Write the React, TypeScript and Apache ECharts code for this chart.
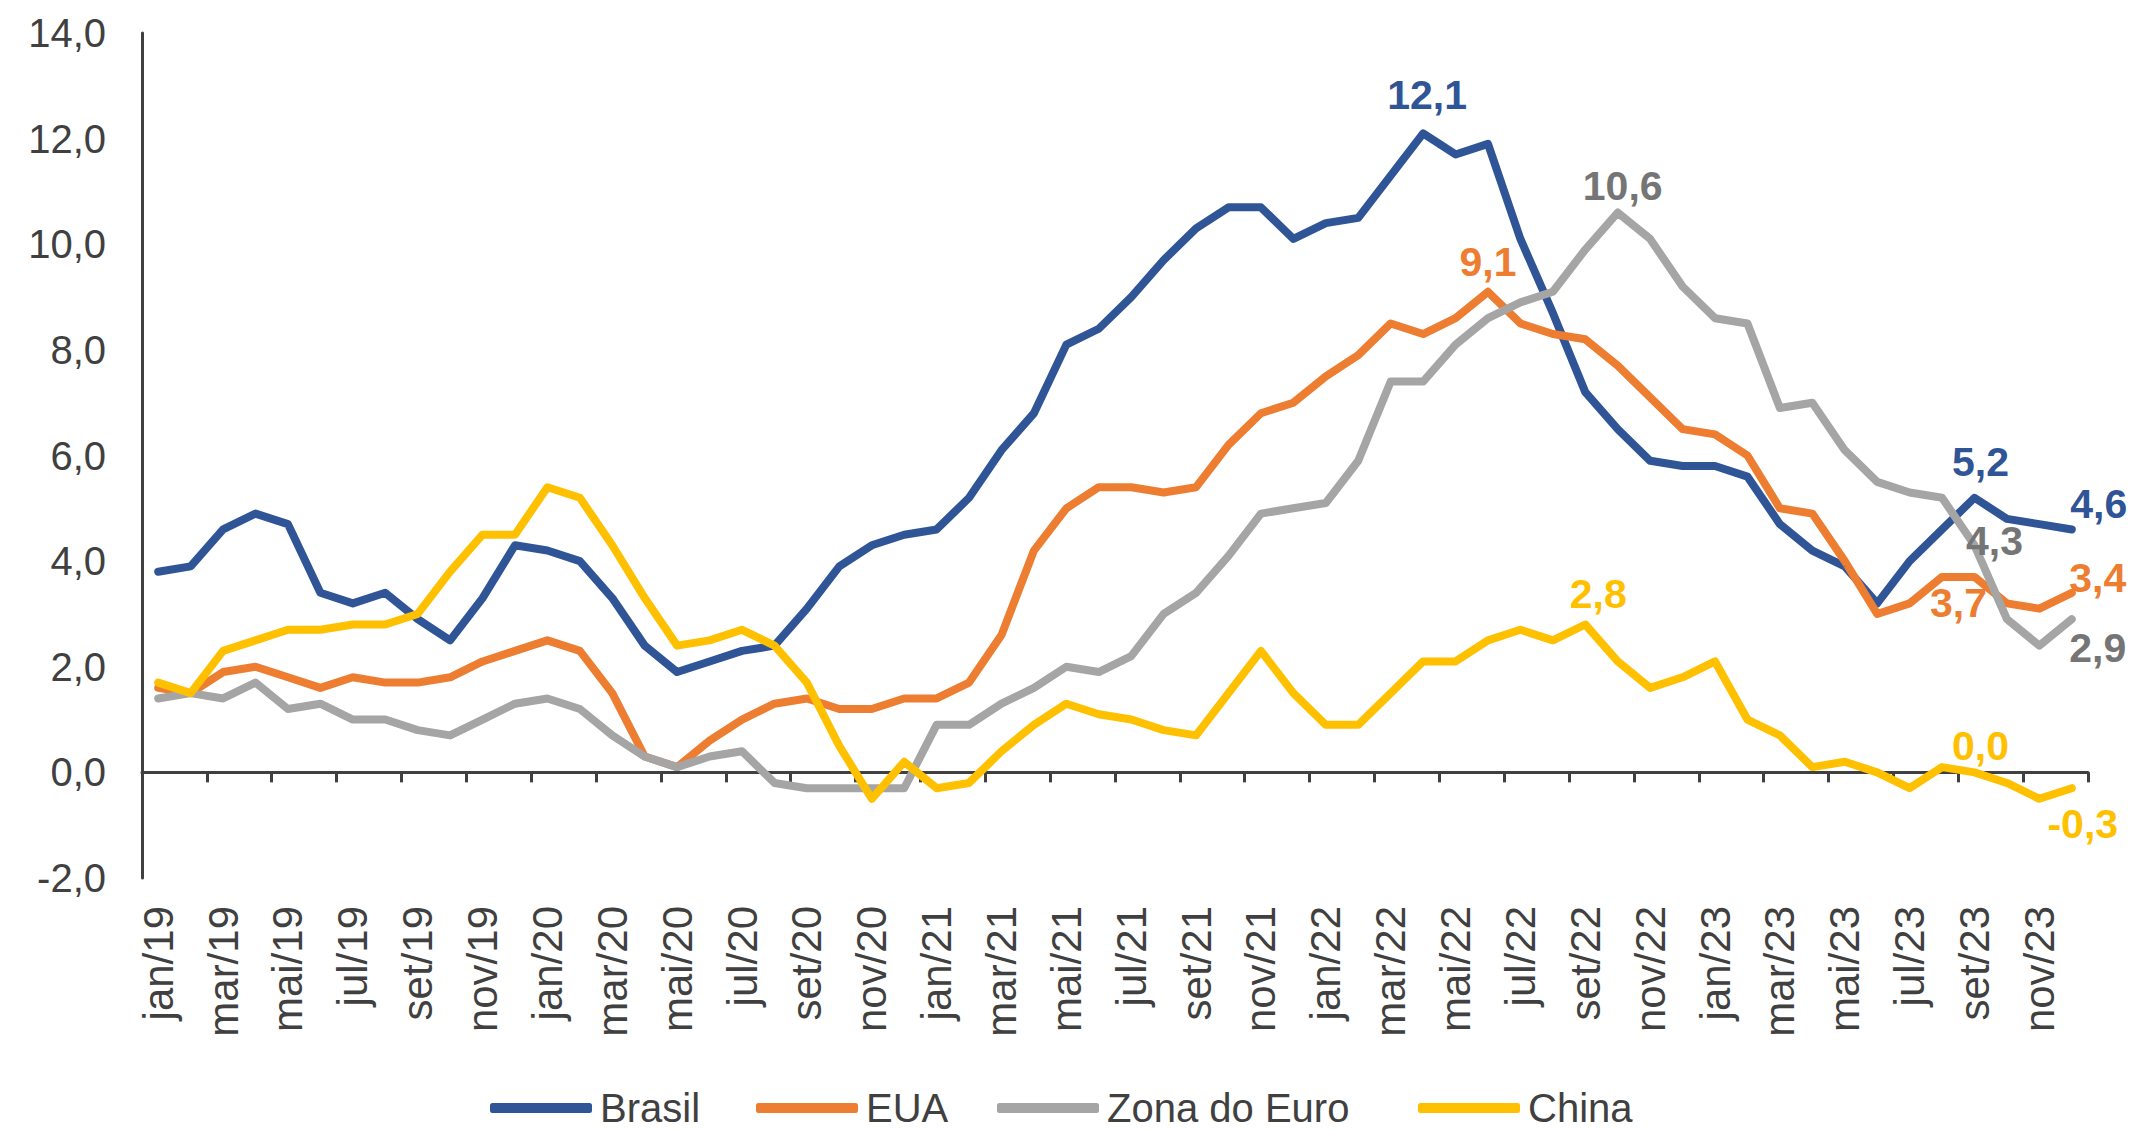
import React, { useEffect, useRef } from "react";
import * as echarts from "echarts";

const months = [
  "jan/19", "fev/19", "mar/19", "abr/19", "mai/19", "jun/19", "jul/19", "ago/19", "set/19", "out/19", "nov/19", "dez/19",
  "jan/20", "fev/20", "mar/20", "abr/20", "mai/20", "jun/20", "jul/20", "ago/20", "set/20", "out/20", "nov/20", "dez/20",
  "jan/21", "fev/21", "mar/21", "abr/21", "mai/21", "jun/21", "jul/21", "ago/21", "set/21", "out/21", "nov/21", "dez/21",
  "jan/22", "fev/22", "mar/22", "abr/22", "mai/22", "jun/22", "jul/22", "ago/22", "set/22", "out/22", "nov/22", "dez/22",
  "jan/23", "fev/23", "mar/23", "abr/23", "mai/23", "jun/23", "jul/23", "ago/23", "set/23", "out/23", "nov/23", "dez/23",
];

const brasil = [
  3.8, 3.9, 4.6, 4.9, 4.7, 3.4, 3.2, 3.4, 2.9, 2.5, 3.3, 4.3,
  4.2, 4.0, 3.3, 2.4, 1.9, 2.1, 2.3, 2.4, 3.1, 3.9, 4.3, 4.5,
  4.6, 5.2, 6.1, 6.8, 8.1, 8.4, 9.0, 9.7, 10.3, 10.7, 10.7, 10.1,
  10.4, 10.5, 11.3, 12.1, 11.7, 11.9, 10.1, 8.7, 7.2, 6.5, 5.9, 5.8,
  5.8, 5.6, 4.7, 4.2, 3.9, 3.2, 4.0, 4.6, 5.2, 4.8, 4.7, 4.6,
];

const eua = [
  1.6, 1.5, 1.9, 2.0, 1.8, 1.6, 1.8, 1.7, 1.7, 1.8, 2.1, 2.3,
  2.5, 2.3, 1.5, 0.3, 0.1, 0.6, 1.0, 1.3, 1.4, 1.2, 1.2, 1.4,
  1.4, 1.7, 2.6, 4.2, 5.0, 5.4, 5.4, 5.3, 5.4, 6.2, 6.8, 7.0,
  7.5, 7.9, 8.5, 8.3, 8.6, 9.1, 8.5, 8.3, 8.2, 7.7, 7.1, 6.5,
  6.4, 6.0, 5.0, 4.9, 4.0, 3.0, 3.2, 3.7, 3.7, 3.2, 3.1, 3.4,
];

const zonaEuro = [
  1.4, 1.5, 1.4, 1.7, 1.2, 1.3, 1.0, 1.0, 0.8, 0.7, 1.0, 1.3,
  1.4, 1.2, 0.7, 0.3, 0.1, 0.3, 0.4, -0.2, -0.3, -0.3, -0.3, -0.3,
  0.9, 0.9, 1.3, 1.6, 2.0, 1.9, 2.2, 3.0, 3.4, 4.1, 4.9, 5.0,
  5.1, 5.9, 7.4, 7.4, 8.1, 8.6, 8.9, 9.1, 9.9, 10.6, 10.1, 9.2,
  8.6, 8.5, 6.9, 7.0, 6.1, 5.5, 5.3, 5.2, 4.3, 2.9, 2.4, 2.9,
];

const china = [
  1.7, 1.5, 2.3, 2.5, 2.7, 2.7, 2.8, 2.8, 3.0, 3.8, 4.5, 4.5,
  5.4, 5.2, 4.3, 3.3, 2.4, 2.5, 2.7, 2.4, 1.7, 0.5, -0.5, 0.2,
  -0.3, -0.2, 0.4, 0.9, 1.3, 1.1, 1.0, 0.8, 0.7, 1.5, 2.3, 1.5,
  0.9, 0.9, 1.5, 2.1, 2.1, 2.5, 2.7, 2.5, 2.8, 2.1, 1.6, 1.8,
  2.1, 1.0, 0.7, 0.1, 0.2, 0.0, -0.3, 0.1, 0.0, -0.2, -0.5, -0.3,
];

const yTicks = { min: -2, max: 14, interval: 2 };

const seriesNames = ["Brasil", "EUA", "Zona do Euro", "China"];

// styling: annotated points (index in series, label offset from the point)
const annotations: Record<string, { index: number; offset: [number, number] }[]> = {
  Brasil: [
    { index: 39, offset: [4, -38] },
    { index: 56, offset: [6, -36] },
    { index: 59, offset: [27, -25] },
  ],
  EUA: [
    { index: 41, offset: [0, -30] },
    { index: 56, offset: [-16, 26] },
    { index: 59, offset: [26, -15] },
  ],
  "Zona do Euro": [
    { index: 45, offset: [5, -27] },
    { index: 56, offset: [20, -4] },
    { index: 59, offset: [26, 29] },
  ],
  China: [
    { index: 44, offset: [13, -31] },
    { index: 56, offset: [6, -26] },
    { index: 59, offset: [11, 36] },
  ],
};

// styling: left position of each legend item
const legendLeft: Record<string, number> = {
  Brasil: 490,
  EUA: 756,
  "Zona do Euro": 997,
  China: 1418,
};

const lineColors: Record<string, string> = {
  Brasil: "#2F5597",
  EUA: "#ED7D31",
  "Zona do Euro": "#A5A5A5",
  China: "#FFC000",
};
const labelColors: Record<string, string> = {
  Brasil: "#2F5597",
  EUA: "#ED7D31",
  "Zona do Euro": "#757575",
  China: "#FFC000",
};

const FONT = "'Liberation Sans', Arial, sans-serif";
const TEXT = "#404040";
const fmt = (v: number) => v.toFixed(1).replace(".", ",").replace("-0,0", "0,0");

export default function App() {
  const ref = useRef<HTMLDivElement>(null);

  useEffect(() => {
    if (!ref.current) return;
    const chart = echarts.init(ref.current, undefined, { renderer: "svg" });
    const valuesByName: Record<string, number[]> = {
      Brasil: brasil,
      EUA: eua,
      "Zona do Euro": zonaEuro,
      China: china,
    };

    const series = seriesNames.map((name) => {
      const vals = valuesByName[name];
      const ann = annotations[name] || [];
      const data = vals.map((v, i) => {
        const a = ann.find((x) => x.index === i);
        if (!a) return v;
        return {
          value: v,
          label: {
            show: true,
            position: "inside",
            offset: a.offset,
            formatter: (p: any) => fmt(p.value),
            fontSize: 41,
            fontWeight: "bold",
            fontFamily: FONT,
            color: labelColors[name],
          },
        };
      });
      return {
        name,
        type: "line",
        xAxisIndex: 0,
        data,
        symbol: "circle",
        symbolSize: 1,
        showSymbol: true,
        showAllSymbol: true,
        itemStyle: { color: lineColors[name] },
        lineStyle: { color: lineColors[name], width: 8, cap: "round", join: "round" },
        label: { show: false },
        emphasis: { disabled: true },
      };
    });

    const legends = seriesNames.map((name) => ({
      data: [name],
      left: legendLeft[name],
      top: 1088,
      padding: 0,
      icon: "roundRect",
      itemWidth: 102,
      itemHeight: 10,
      selectedMode: false,
      textStyle: { fontSize: 40, color: TEXT, fontFamily: FONT, padding: [0, 0, 0, 3] },
    }));

    chart.setOption({
      animation: false,
      backgroundColor: "#ffffff",
      textStyle: { fontFamily: FONT },
      grid: { left: 142, right: 54, top: 33, bottom: 253, containLabel: false },
      legend: legends,
      xAxis: [
        {
          type: "category",
          data: months,
          boundaryGap: true,
          axisLine: { show: true, onZero: true, lineStyle: { color: TEXT, width: 3 } },
          axisTick: { show: true, interval: 1, length: 10, lineStyle: { color: TEXT, width: 3 } },
          axisLabel: { show: false },
          splitLine: { show: false },
        },
        {
          type: "category",
          data: months,
          position: "bottom",
          boundaryGap: true,
          axisLine: { show: false, onZero: false },
          axisTick: { show: false },
          axisLabel: {
            show: true,
            interval: 1,
            rotate: 90,
            margin: 28,
            fontSize: 42,
            color: TEXT,
            fontFamily: FONT,
          },
          splitLine: { show: false },
        },
      ],
      yAxis: {
        type: "value",
        min: yTicks.min,
        max: yTicks.max,
        interval: yTicks.interval,
        axisLine: { show: true, onZero: false, lineStyle: { color: TEXT, width: 3 } },
        axisTick: { show: false },
        splitLine: { show: false },
        axisLabel: {
          fontSize: 40,
          color: TEXT,
          margin: 36,
          fontFamily: FONT,
          formatter: (v: number) => fmt(v),
        },
      },
      series,
    });

    return () => chart.dispose();
  }, []);

  return (
    <div
      ref={ref}
      style={{ position: "fixed", left: 0, top: 0, width: 2142, height: 1131, background: "#fff" }}
    />
  );
}
